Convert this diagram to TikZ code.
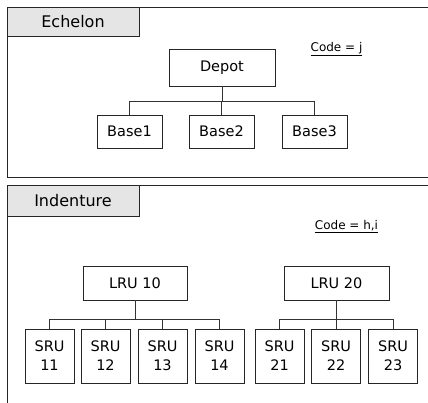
\documentclass[tikz,border=0pt]{standalone}
\usepackage{fontspec}
\setmainfont{DejaVu Sans}
\begin{document}
\begin{tikzpicture}[x=1pt,y=-1pt,
  panel/.style={draw=black!85,line width=0.9pt},
  tabbox/.style={draw=black!85,line width=0.9pt,fill=black!10},
  tabtext/.style={font=\fontsize{16}{18}\selectfont,inner sep=0pt},
  unitbox/.style={draw=black!85,line width=0.8pt,font=\fontsize{14.5}{19}\selectfont,inner sep=0pt,align=center},
  codetext/.style={font=\fontsize{12}{14}\selectfont,inner sep=0pt},
  link/.style={draw=black!80,line width=0.8pt}]
\clip (0,0) rectangle (428,403);
\fill[white] (0,0) rectangle (428,403);
% panels
\draw[panel] (7,7) rectangle (445,177);
\draw[tabbox] (7,7) rectangle (139,36);
\node[tabtext] (ech) at (73,22) {Echelon};
\node[codetext] (codej) at (336.5,49) {\underline{Code = j}};

\draw[panel] (7,185) rectangle (445,430);
\draw[tabbox] (7,185) rectangle (139,216);
\node[tabtext] (ind) at (73,201) {Indenture};
\node[codetext] (codehi) at (346.5,227) {\underline{Code = h,i}};

% echelon tree
\node[unitbox,minimum width=106pt,minimum height=37pt] (depot) at (222,67.5) {Depot};
\node[unitbox,minimum width=65pt,minimum height=33pt] (b1) at (129.5,131.5) {Base1};
\node[unitbox,minimum width=65pt,minimum height=33pt] (b2) at (221.5,131.5) {Base2};
\node[unitbox,minimum width=65pt,minimum height=33pt] (b3) at (314.5,131.5) {Base3};
\draw[link] (depot.south) -- ++(0,15) coordinate (je);
\draw[link] (je) -| (b1.north);
\draw[link] (je) -| (b3.north);
\draw[link] (je -| b2.north) -- (b2.north);

% indenture tree
\node[unitbox,minimum width=104pt,minimum height=34pt] (l10) at (135,283) {LRU 10};
\node[unitbox,minimum width=105pt,minimum height=34pt] (l20) at (336.5,283) {LRU 20};
\foreach \n/\x in {11/49.5,12/105.5,13/162.5,14/219.5,21/279.5,22/336,23/393}{
  \node[unitbox,minimum width=49pt,minimum height=54pt] (s\n) at (\x,356) {SRU\\\n};
}
\draw[link] (l10.south) -- ++(0,19) coordinate (j10);
\draw[link] (j10) -| (s11.north);
\draw[link] (j10) -| (s14.north);
\draw[link] (j10 -| s12.north) -- (s12.north);
\draw[link] (j10 -| s13.north) -- (s13.north);
\draw[link] (l20.south) -- ++(0,19) coordinate (j20);
\draw[link] (j20) -| (s21.north);
\draw[link] (j20) -| (s23.north);
\draw[link] (j20 -| s22.north) -- (s22.north);
\end{tikzpicture}
\end{document}
